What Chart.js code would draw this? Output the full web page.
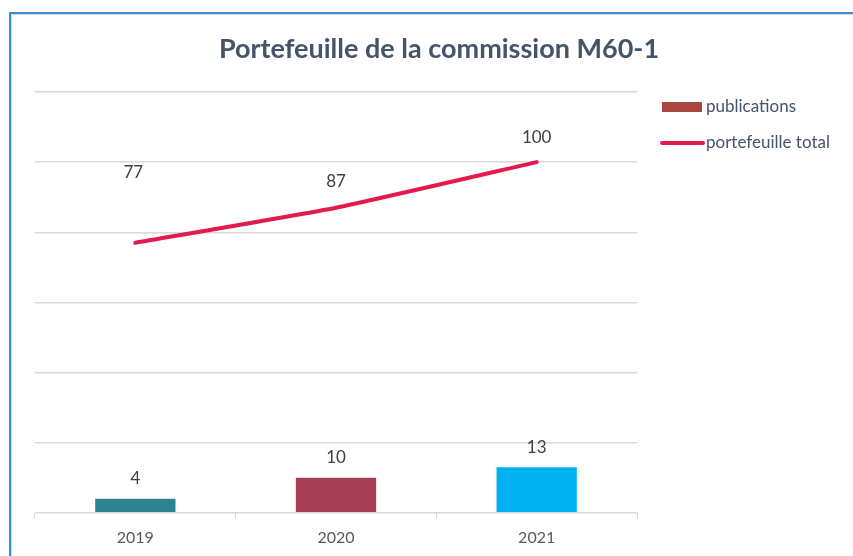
<!DOCTYPE html>
<html lang="fr">
<head>
<meta charset="UTF-8">
<title>Portefeuille de la commission M60-1</title>
<script src="https://cdn.jsdelivr.net/npm/chart.js"></script>
<style>
  html, body { margin: 0; padding: 0; background: #fff; }
  #wrap { position: relative; width: 853px; height: 556px; overflow: hidden; }
  #frame { position: absolute; left: 9px; top: 12px; width: 900px; height: 600px;
           border-top: 2px solid #3a8fd8; border-left: 2px solid #3a8fd8;
           box-shadow: inset 1px 1px 0 #d6d6d6; }
  canvas { position: absolute; left: 0; top: 0; }
</style>
</head>
<body>
<div id="wrap">
  <div id="frame"></div>
  <canvas id="chart" width="853" height="556"></canvas>
</div>
<script>
const years = ['2019', '2020', '2021'];
const publications = [4, 10, 13];
const portefeuilleTotal = [77, 87, 100];
const barColors = ['#2e8292', '#a63f55', '#00b0f0'];
const legendBarColor = '#a9463f';
const lineColor = '#e31b4d';
const textColor = '#404040';

// étiquettes de valeurs + titre + légende dessinés à la main
const decorations = {
    id: 'decorations',
    afterDatasetsDraw(chart) {
        const ctx = chart.ctx;
        ctx.save();
        ctx.font = '17px Lato';
        ctx.fillStyle = textColor;
        ctx.textAlign = 'center';
        ctx.textBaseline = 'middle';
        const barMeta = chart.getDatasetMeta(0);
        barMeta.data.forEach((el, i) => {
            ctx.fillText(publications[i], el.x, el.y - 20);
        });
        const lineLift = [70, 26, 25];
        const lineMeta = chart.getDatasetMeta(1);
        lineMeta.data.forEach((el, i) => {
            ctx.fillText(portefeuilleTotal[i], el.x - (i === 0 ? 2 : 0), el.y - lineLift[i]);
        });

        // titre
        ctx.font = 'bold 27px Lato';
        ctx.fillStyle = '#44546a';
        ctx.fillText('Portefeuille de la commission M60-1', 439, 49);

        // légende
        ctx.textAlign = 'left';
        ctx.font = '17px Lato';
        ctx.fillStyle = legendBarColor;
        ctx.fillRect(662, 102, 40, 10);
        ctx.fillStyle = '#44546a';
        ctx.fillText('publications', 706, 107);
        ctx.strokeStyle = lineColor;
        ctx.lineWidth = 4;
        ctx.lineCap = 'round';
        ctx.beginPath();
        ctx.moveTo(662, 143);
        ctx.lineTo(703, 143);
        ctx.stroke();
        ctx.fillText('portefeuille total', 706, 143);
        ctx.restore();
    }
};

new Chart(document.getElementById('chart'), {
    type: 'bar',
    data: {
        labels: years,
        datasets: [{
            label: 'publications',
            data: publications,
            backgroundColor: barColors,
            categoryPercentage: 1,
            barPercentage: 0.4,
            order: 2
        }, {
            type: 'line',
            label: 'portefeuille total',
            data: portefeuilleTotal,
            borderColor: lineColor,
            borderWidth: 4,
            borderCapStyle: 'round',
            pointRadius: 0,
            tension: 0.15,
            order: 1
        }]
    },
    options: {
        responsive: false,
        animation: false,
        layout: { padding: { left: 35, right: 216, top: 92, bottom: 0 } },
        plugins: {
            legend: { display: false },
            title: { display: false },
            tooltip: { enabled: false }
        },
        scales: {
            x: {
                grid: { offset: true, drawOnChartArea: false, color: '#d9d9d9', tickLength: 6 },
                border: { color: '#d9d9d9', width: 1 },
                ticks: { color: '#595959', font: { family: 'Lato', size: 16 }, padding: 9 }
            },
            y: {
                min: 0,
                max: 120,
                ticks: { stepSize: 20, display: false },
                grid: { color: '#d9d9d9', lineWidth: 1.5, drawTicks: false },
                border: { display: false }
            }
        }
    },
    plugins: [decorations]
});
</script>
</body>
</html>
